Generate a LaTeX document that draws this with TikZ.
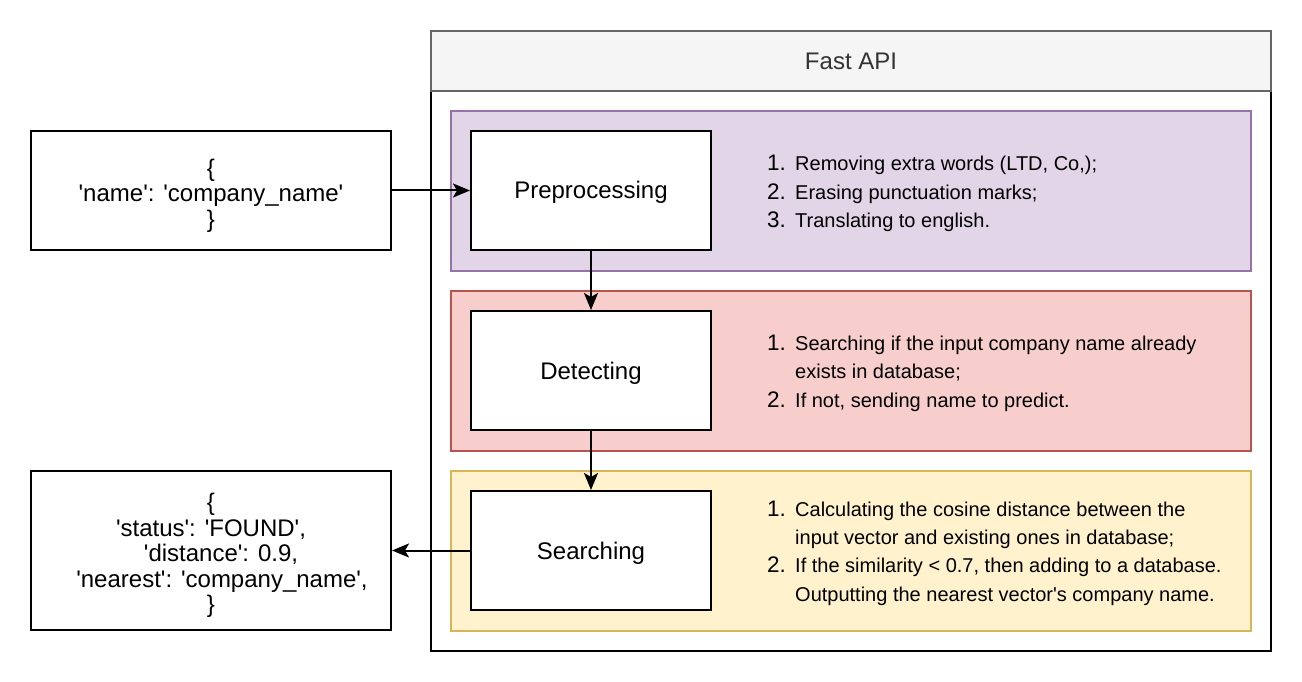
\documentclass[tikz,border=0pt]{standalone}
\usepackage{fontspec}
\setmainfont{Liberation Sans}
\usetikzlibrary{arrows.meta}
\definecolor{purpfill}{HTML}{E1D5E7}
\definecolor{purpline}{HTML}{9673A6}
\definecolor{redfill}{HTML}{F8CECC}
\definecolor{redline}{HTML}{B85450}
\definecolor{yelfill}{HTML}{FFF2CC}
\definecolor{yelline}{HTML}{D6B656}
\definecolor{headfill}{HTML}{F5F5F5}
\definecolor{headline}{HTML}{666666}
\definecolor{headtext}{HTML}{333333}
\newcommand{\q}{\textquotesingle}
\newcommand{\nm}[1]{{\fontsize{22.5}{28.4}\selectfont #1}}
\begin{document}
\begin{tikzpicture}[x=1pt,y=-1pt,
  stepbox/.style={draw=black, line width=2pt, fill=white, minimum width=240pt, minimum height=119pt,
    inner sep=0pt, text height=17pt, text depth=0pt, font=\fontsize{24}{27}\selectfont},
  jsonbox/.style={draw=black, line width=2pt, fill=white, minimum width=360pt, inner sep=0pt},
  jsontext/.style={inner sep=0pt, align=center, yshift=-5pt, font=\fontsize{24}{25.5}\selectfont},
  lanebox/.style={line width=1.6pt, minimum width=800pt, minimum height=160pt, inner sep=0pt},
  listtext/.style={anchor=base west, inner sep=0pt, font=\fontsize{20}{28.4}\selectfont},
  arr/.style={line width=2pt, -{Stealth[length=17pt,width=14pt,inset=4pt]}}
]
\useasboundingbox (0,0) rectangle (1302,682);

% container
\node[draw=black, line width=1.6pt, minimum width=840pt, minimum height=560pt, inner sep=0pt] (body) at (851,371) {};
\node[draw=headline, fill=headfill, line width=1.6pt, minimum width=840pt, minimum height=60pt, inner sep=0pt,
  text=headtext, text height=17pt, text depth=0pt, font=\fontsize{24}{27}\selectfont] (head) at (851,61) {Fast API};

% lanes
\node[lanebox, draw=purpline, fill=purpfill] (lane1) at (851,191) {};
\node[lanebox, draw=redline, fill=redfill] (lane2) at (851,371) {};
\node[lanebox, draw=yelline, fill=yelfill] (lane3) at (851,551) {};

% step boxes
\node[stepbox] (pre) at (591,190.5) {Preprocessing};
\node[stepbox] (det) at (591,370.5) {Detecting};
\node[stepbox] (srch) at (591,550.5) {Searching};

% json boxes
\node[jsonbox, minimum height=119pt,
  label={[jsontext]center:{\{\\ \q name\q: \q company\_name\q\\ \}}}] (in) at (211,190.5) {};
\node[jsonbox, minimum height=159pt,
  label={[jsontext]center:{\{\\ \q status\q: \q FOUND\q,\\ \hspace*{20pt}\q distance\q: 0.9,\\ \hspace*{22pt}\q nearest\q: \q company\_name\q,\\ \}}}] (out) at (211,550.5) {};

% lists
\node[listtext] (list1) at (767,171) {\begin{tabular}[t]{@{}p{28pt}@{}l@{}}
\nm{1.} & Removing extra words (LTD, Co,);\\
\nm{2.} & Erasing punctuation marks;\\
\nm{3.} & Translating to english.
\end{tabular}};
\node[listtext] (list2) at (767,350.5) {\begin{tabular}[t]{@{}p{28pt}@{}l@{}}
\nm{1.} & Searching if the input company name already\\
 & exists in database;\\
\nm{2.} & If not, sending name to predict.
\end{tabular}};
\node[listtext] (list3) at (767,516) {\begin{tabular}[t]{@{}p{28pt}@{}l@{}}
\nm{1.} & Calculating the cosine distance between the\\
 & input vector and existing ones in database;\\
\nm{2.} & If the similarity < 0.7, then adding to a database.\\
 & Outputting the nearest vector\q s company name.
\end{tabular}};

% connectors
\draw[arr] (in.east) -- (pre.west);
\draw[arr] (pre.south) -- (det.north);
\draw[arr] (det.south) -- (srch.north);
\draw[arr] (srch.west) -- (out.east);
\end{tikzpicture}
\end{document}
